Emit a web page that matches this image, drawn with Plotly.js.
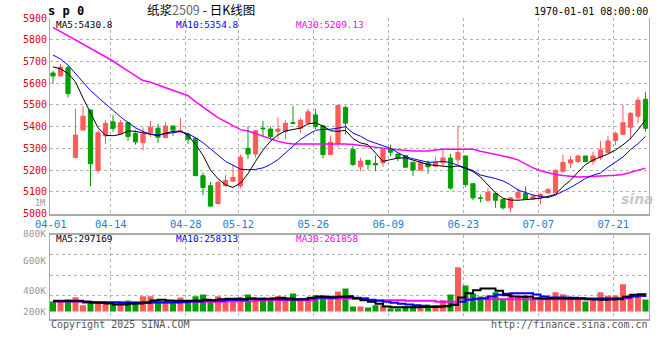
<!DOCTYPE html>
<html><head><meta charset="utf-8">
<script src="https://cdn.plot.ly/plotly-3.0.1.min.js"></script>
<style>html,body{margin:0;padding:0;background:#fff}#chart{width:660px;height:360px}</style>
</head><body><div id="chart"></div>
<script>
// ---- data ----
const dates = ['04-01','04-02','04-03','04-07','04-08','04-09','04-10','04-11','04-14','04-15',
  '04-16','04-17','04-18','04-21','04-22','04-23','04-24','04-25','04-28','04-29',
  '04-30','05-06','05-07','05-08','05-09','05-12','05-13','05-14','05-15','05-16',
  '05-19','05-20','05-21','05-22','05-23','05-26','05-27','05-28','05-29','05-30',
  '06-02','06-03','06-04','06-05','06-06','06-09','06-10','06-11','06-12','06-13',
  '06-16','06-17','06-18','06-19','06-20','06-23','06-24','06-25','06-26','06-27',
  '06-30','07-01','07-02','07-03','07-04','07-07','07-08','07-09','07-10','07-11',
  '07-14','07-15','07-16','07-17','07-18','07-21','07-22','07-23','07-24','07-25'];
const openP = [5647,5633,5671,5258,5384,5476,5198,5357,5422,5366,
  5418,5369,5326,5369,5393,5349,5403,5377,5366,5346,
  5174,5128,5046,5128,5149,5127,5300,5274,5393,5389,
  5378,5378,5418,5393,5416,5454,5404,5271,5322,5488,
  5294,5215,5245,5230,5233,5297,5274,5267,5236,5200,
  5233,5218,5233,5255,5247,5265,5137,5072,5061,5092,
  5064,5026,5072,5092,5067,5072,5095,5095,5194,5232,
  5239,5265,5239,5259,5281,5336,5364,5397,5448,5526];
const highP = [5656,5689,5682,5483,5494,5480,5384,5430,5453,5430,
  5422,5384,5397,5427,5412,5422,5403,5438,5372,5351,
  5189,5145,5150,5178,5226,5271,5400,5381,5427,5400,
  5442,5429,5496,5439,5482,5482,5404,5358,5503,5497,
  5311,5256,5245,5267,5294,5317,5274,5267,5236,5244,
  5244,5261,5297,5275,5403,5265,5137,5087,5117,5092,
  5064,5076,5117,5125,5087,5095,5117,5204,5270,5265,
  5270,5265,5285,5334,5357,5377,5499,5468,5537,5560];
const lowP = [5598,5633,5534,5258,5384,5125,5183,5320,5377,5366,
  5335,5317,5290,5351,5326,5349,5357,5372,5320,5174,
  5084,5031,5040,5125,5145,5115,5250,5258,5352,5340,
  5343,5343,5412,5371,5416,5389,5253,5271,5305,5363,
  5218,5195,5203,5195,5215,5264,5241,5209,5172,5200,
  5183,5215,5215,5110,5224,5122,5061,5052,5052,5026,
  5018,5006,5064,5064,5061,5041,5092,5095,5189,5209,
  5232,5239,5224,5247,5281,5316,5361,5342,5415,5377];
const closeP = [5633,5674,5552,5361,5448,5229,5372,5415,5392,5418,
  5354,5329,5366,5397,5351,5403,5384,5380,5342,5174,
  5120,5034,5143,5152,5166,5259,5274,5381,5390,5355,
  5389,5415,5415,5429,5468,5401,5271,5328,5497,5416,
  5226,5241,5226,5224,5294,5282,5256,5213,5200,5236,
  5215,5236,5256,5117,5281,5133,5072,5069,5098,5061,
  5026,5072,5098,5067,5079,5087,5110,5198,5235,5247,
  5265,5239,5265,5293,5334,5369,5418,5461,5522,5392];
const ma5 = [5675,5666,5645,5606,5532,5462,5395,5360,5358,5364,
  5380,5378,5372,5364,5358,5370,5378,5379,5360,5318,
  5268,5200,5160,5132,5120,5140,5183,5240,5292,5333,
  5362,5380,5386,5393,5412,5418,5402,5381,5378,5383,
  5345,5325,5317,5278,5240,5248,5255,5256,5247,5236,
  5225,5220,5218,5214,5219,5208,5193,5168,5130,5095,
  5070,5062,5061,5064,5066,5070,5079,5088,5124,5153,
  5190,5225,5246,5260,5274,5292,5316,5345,5385,5431];
const ma10 = [5730,5711,5683,5645,5606,5566,5535,5504,5477,5445,
  5419,5394,5378,5364,5362,5366,5372,5377,5367,5349,
  5326,5299,5269,5240,5222,5204,5202,5203,5210,5226,
  5248,5280,5313,5341,5363,5383,5387,5388,5393,5400,
  5370,5356,5336,5324,5313,5300,5280,5262,5252,5243,
  5236,5237,5240,5234,5223,5212,5198,5177,5170,5161,
  5150,5132,5108,5095,5085,5079,5073,5085,5102,5119,
  5140,5161,5176,5187,5213,5238,5260,5294,5321,5355];
const ma30 = [5857,5838,5818,5799,5779,5760,5740,5721,5702,5678,
  5656,5634,5612,5604,5591,5579,5566,5554,5542,5515,
  5490,5465,5441,5423,5404,5386,5380,5368,5354,5341,
  5332,5325,5320,5320,5320,5320,5322,5323,5322,5320,
  5318,5313,5309,5305,5301,5297,5294,5290,5288,5288,
  5288,5292,5296,5296,5297,5297,5296,5287,5280,5273,
  5266,5257,5247,5227,5210,5197,5187,5180,5175,5170,
  5168,5169,5170,5171,5173,5176,5180,5190,5199,5209];
const volume = [163000,163000,196000,234000,103000,152000,152000,147000,120000,163000,
  179000,136000,250000,250000,196000,163000,147000,228000,163000,250000,
  277000,163000,250000,201000,201000,234000,277000,228000,228000,196000,
  250000,196000,293000,212000,228000,261000,261000,212000,326000,375000,
  82000,82000,65000,103000,103000,49000,49000,82000,92000,103000,
  109000,103000,185000,277000,722000,424000,293000,245000,261000,315000,
  207000,298000,245000,261000,207000,196000,196000,315000,282000,207000,
  207000,163000,196000,315000,256000,261000,445000,282000,282000,196000];
const volMa5 = [168000,168000,168000,168000,157000,147000,141000,130000,115000,115000,
  125000,130000,147000,179000,190000,179000,174000,174000,174000,179000,
  190000,185000,201000,206000,206000,201000,212000,201000,201000,212000,
  223000,212000,196000,201000,223000,245000,239000,234000,239000,250000,
  212000,185000,157000,125000,80000,70000,68000,68000,70000,72000,
  75000,78000,85000,110000,228000,299000,348000,375000,375000,337000,
  266000,245000,239000,239000,217000,212000,212000,212000,212000,212000,
  212000,201000,196000,190000,196000,201000,239000,272000,282000,297000];
const volMa10 = [174000,174000,174000,174000,147000,147000,147000,147000,147000,141000,
  141000,141000,141000,147000,147000,147000,147000,152000,163000,163000,
  179000,179000,179000,190000,190000,190000,206000,206000,206000,206000,
  201000,196000,201000,201000,212000,223000,223000,228000,239000,234000,
  223000,212000,190000,174000,157000,141000,125000,114000,103000,92000,
  81000,81000,87000,109000,157000,190000,206000,217000,245000,272000,
  288000,299000,299000,299000,277000,245000,228000,228000,228000,223000,
  217000,212000,212000,212000,212000,212000,228000,245000,255000,258000];
const volMa30 = [163000,163000,163000,163000,163000,152000,152000,152000,152000,152000,
  152000,152000,152000,152000,152000,152000,152000,157000,157000,157000,
  157000,157000,157000,168000,168000,168000,168000,179000,185000,185000,
  185000,185000,185000,185000,185000,212000,212000,212000,212000,212000,
  212000,212000,185000,185000,185000,185000,185000,174000,174000,174000,
  174000,158000,158000,158000,201000,201000,201000,201000,201000,201000,
  201000,201000,201000,201000,201000,201000,201000,201000,201000,201000,
  201000,201000,201000,212000,212000,212000,212000,245000,255000,262000];
const tickDates = ['04-01','04-14','04-28','05-12','05-26','06-09','06-23','07-07','07-21'];
const volLabels = ['800K','600K','400K','200K'];
const legendPrice = ['MA5:5430.8','MA10:5354.8','MA30:5209.13'];
const legendVol = ['MA5:297169','MA10:258313','MA30:261858'];

// ---- build ----
const W = 660, H = 360;
const px = x => x / W, py = y => 1 - y / H;
const idx = dates.map((d, i) => i);
const RED = '#ff5a5a', GREEN = '#00a000';
const MONO = 'DejaVu Sans Mono, Liberation Mono, monospace';

const traces = [
  {type:'candlestick', x: idx, open: openP, high: highP, low: lowP, close: closeP,
   xaxis:'x', yaxis:'y', whiskerwidth: 0,
   increasing:{line:{color:RED, width:1}, fillcolor:RED},
   decreasing:{line:{color:GREEN, width:1}, fillcolor:GREEN}, hoverinfo:'skip'},
  {type:'scatter', mode:'lines', x: idx, y: ma30, xaxis:'x', yaxis:'y', line:{color:'#ff00ff', width:1.5}},
  {type:'scatter', mode:'lines', x: idx, y: ma10, xaxis:'x', yaxis:'y', line:{color:'#0000ff', width:1}},
  {type:'scatter', mode:'lines', x: idx, y: ma5, xaxis:'x', yaxis:'y', line:{color:'#000000', width:1}},
  {type:'bar', x: idx, y: volume, xaxis:'x2', yaxis:'y2', width:0.8,
   marker:{color: closeP.map((c, i) => c >= openP[i] ? RED : GREEN), line:{width:0}}},
  {type:'scatter', mode:'lines', x: idx, y: volMa30, xaxis:'x2', yaxis:'y2', line:{color:'#ff00ff', width:2, shape:'hv'}},
  {type:'scatter', mode:'lines', x: idx, y: volMa10, xaxis:'x2', yaxis:'y2', line:{color:'#0000ff', width:2, shape:'hv'}},
  {type:'scatter', mode:'lines', x: idx, y: volMa5, xaxis:'x2', yaxis:'y2', line:{color:'#000000', width:2, shape:'hv'}}
];

const tickvals = tickDates.map(d => dates.indexOf(d) - 0.3);
const xDomain = [px(50), px(649)];
const xRange = [-0.4, 79.47];
const gridStyle = {showgrid:true, gridcolor:'#b0b0b0', gridwidth:1, griddash:'dot', zeroline:false};

const ann = [];
const addText = (text, x, y, color, size, anchor, extra) => ann.push(Object.assign({
  text, x: px(x), y: py(y), xref:'paper', yref:'paper', xanchor: anchor, yanchor:'middle',
  showarrow:false, borderpad:0, font:{family: MONO, size, color}}, extra || {}));

addText('<b>s p 0</b>', 47, 11, '#000', 12, 'left');
addText('纸浆<span style="color:#666">2509</span> - 日K线图', 201, 9, '#000', 12.5, 'center',
        {font:{family:'Noto Sans CJK SC, sans-serif', size:12.5, color:'#000'}});
addText('1970-01-01 08:00:00', 649, 11, '#000', 10, 'right');
const legColors = ['#000000', '#0000ff', '#ff00ff'];
const legX = [55, 175, 295];
legendPrice.forEach((t, i) => addText(t, legX[i], 24.5, legColors[i], 9.4, 'left'));
legendVol.forEach((t, i) => addText(t, legX[i], 238.5, legColors[i], 9.4, 'left'));
const volLabelY = [233, 260, 290, 311];
volLabels.forEach((t, i) => addText(t, 47, volLabelY[i], '#999', 9.5, 'right'));
addText('1M', 46, 203, '#999', 8.5, 'right');
addText('Copyright 2025 SINA.COM', 50, 324, '#555', 10, 'left');
addText('http://finance.sina.com.cn', 649, 324, '#555', 10, 'right');
addText('<b><i>sina</i></b>', 637, 199, 'rgba(190,190,190,0.85)', 14, 'center',
        {font:{family:'DejaVu Sans, sans-serif', size:14, color:'rgba(190,190,190,0.85)'}});

const layout = {
  width: W, height: H, margin:{l:0, r:0, t:0, b:0},
  paper_bgcolor:'#fff', plot_bgcolor:'#fff', showlegend:false, boxgap:0.2,
  xaxis: Object.assign({domain: xDomain, range: xRange, anchor:'y', tickmode:'array',
    tickvals, ticktext: tickDates, ticks:'', showline:true, linecolor:'#aaaaaa', linewidth:2,
    tickfont:{family: MONO, size:10.5, color:'#1a7fd4'}, rangeslider:{visible:false}, fixedrange:true}, gridStyle),
  yaxis: Object.assign({domain:[py(213.5), py(18)], range:[5000, 5900], anchor:'x', tickmode:'linear',
    tick0:5000, dtick:100, ticks:'', showline:true, mirror:true, linecolor:'#aaaaaa', linewidth:1,
    tickfont:{family: MONO, size:10, color:'#e00000'}, fixedrange:true}, gridStyle),
  xaxis2: Object.assign({domain: xDomain, range: xRange, anchor:'y2', matches:'x', tickmode:'array',
    tickvals, showticklabels:false, ticks:'', showline:true, mirror:true, linecolor:'#aaaaaa', linewidth:2,
    fixedrange:true}, gridStyle),
  yaxis2: Object.assign({domain:[py(318.5), py(234.5)], range:[-114000, 1255000], anchor:'x2',
    tickmode:'array', tickvals:[269000, 595000, 921000], showticklabels:false, ticks:'',
    showline:true, mirror:true, linecolor:'#aaaaaa', linewidth:1, fixedrange:true}, gridStyle),
  annotations: ann
};

Plotly.newPlot('chart', traces, layout, {staticPlot:true, displayModeBar:false});
</script>
</body></html>
